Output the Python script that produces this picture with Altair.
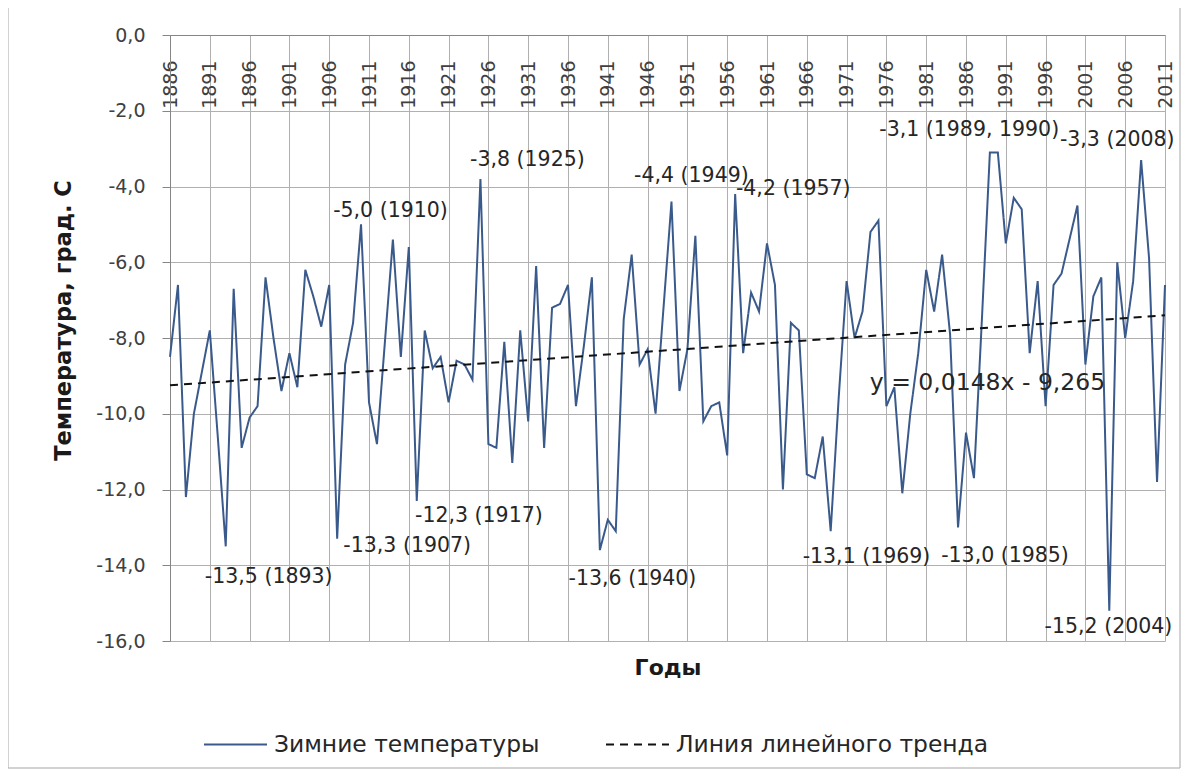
import altair as alt
import pandas as pd

# ---------------- data ----------------
years = list(range(1886, 2012))
winter_temps = [
    -8.5, -6.6, -12.2, -10.0, -8.9, -7.8, -10.6, -13.5, -6.7, -10.9,   # 1886-1895
    -10.1, -9.8, -6.4, -8.0, -9.4, -8.4, -9.3, -6.2, -6.9, -7.7,       # 1896-1905
    -6.6, -13.3, -8.7, -7.6, -5.0, -9.7, -10.8, -8.1, -5.4, -8.5,      # 1906-1915
    -5.6, -12.3, -7.8, -8.8, -8.5, -9.7, -8.6, -8.7, -9.1, -3.8,       # 1916-1925
    -10.8, -10.9, -8.1, -11.3, -7.8, -10.2, -6.1, -10.9, -7.2, -7.1,   # 1926-1935
    -6.6, -9.8, -8.2, -6.4, -13.6, -12.8, -13.1, -7.5, -5.8, -8.7,     # 1936-1945
    -8.3, -10.0, -7.2, -4.4, -9.4, -8.3, -5.3, -10.2, -9.8, -9.7,      # 1946-1955
    -11.1, -4.2, -8.4, -6.8, -7.3, -5.5, -6.6, -12.0, -7.6, -7.8,      # 1956-1965
    -11.6, -11.7, -10.6, -13.1, -9.6, -6.5, -8.0, -7.3, -5.2, -4.9,    # 1966-1975
    -9.8, -9.3, -12.1, -10.0, -8.4, -6.2, -7.3, -5.8, -7.9, -13.0,     # 1976-1985
    -10.5, -11.7, -7.5, -3.1, -3.1, -5.5, -4.3, -4.6, -8.4, -6.5,      # 1986-1995
    -9.8, -6.6, -6.3, -5.4, -4.5, -8.7, -6.9, -6.4, -15.2, -6.0,       # 1996-2005
    -8.0, -6.5, -3.3, -5.9, -11.8, -6.6,                               # 2006-2011
]
trend_years = [1886, 2011]
trend_values = [-9.25, -7.40]
series_names = ["Зимние температуры", "Линия линейного тренда"]
x_tick_years = list(range(1886, 2012, 5))
y_tick_values = list(range(-16, 1, 2))

label_texts = [
    "-5,0 (1910)", "-3,8 (1925)", "-4,4 (1949)", "-4,2 (1957)",
    "-3,1 (1989, 1990)", "-3,3 (2008)",
    "-13,5 (1893)", "-13,3 (1907)", "-12,3 (1917)", "-13,6 (1940)",
    "-13,1 (1969)", "-13,0 (1985)", "-15,2 (2004)",
]
label_years = [1913.7, 1930.9, 1951.5, 1964.3, 1986.4, 2005.0,
               1898.4, 1915.8, 1924.8, 1944.1, 1973.5, 1990.9, 2003.9]
label_values = [-4.65, -3.30, -3.73, -4.07, -2.51, -2.77,
                -14.30, -13.50, -12.71, -14.37, -13.79, -13.76, -15.64]

equation_text = ["y = 0,0148x - 9,265"]
equation_year = [1988.7]
equation_value = [-9.19]

# ---------------- tables ----------------
df_series = pd.DataFrame({"year": years, "value": winter_temps, "series": series_names[0]})
df_trend = pd.DataFrame({"year": trend_years, "value": trend_values, "series": series_names[1]})
df_lines = pd.concat([df_series, df_trend], ignore_index=True)
df_labels = pd.DataFrame({"lx": label_years, "ly": label_values, "text": label_texts})
df_eq = pd.DataFrame({"lx": equation_year, "ly": equation_value, "text": equation_text})

W, H = 995, 606
FONT = "DejaVu Sans"
GRID = "#b0b0b0"
AXIS = "#868686"

x_scale = alt.Scale(domain=[1886, 2011], nice=False, zero=False)
y_scale = alt.Scale(domain=[-16, 0], nice=False, zero=False)

legend_cfg = alt.Legend(
    orient="none", legendX=33, legendY=677, direction="horizontal", title=None,
    symbolType="stroke", symbolSize=3969, symbolStrokeWidth=2,
    labelFont=FONT, labelFontSize=23.4, labelColor="#262626",
    labelOffset=6, columnPadding=62, padding=0, labelLimit=500,
)

lines = alt.Chart(df_lines).mark_line(strokeWidth=2).encode(
    x=alt.X("year:Q", scale=x_scale, axis=alt.Axis(
        orient="bottom", offset=-H, values=x_tick_years, tickCount=len(x_tick_years),
        format="d", labelAngle=-90, ticks=False, labelPadding=25,
        labelFont=FONT, labelFontSize=19, labelColor="#404040",
        labelFlush=False, labelOverlap=False,
        grid=True, gridColor=GRID, gridWidth=1,
        domainColor=AXIS, domainWidth=1,
        title="Годы", titleFont=FONT, titleFontSize=22, titleFontWeight="bold",
        titleColor="#1a1a1a", titleX=W / 2, titleY=632,
        titleAlign="center", titleBaseline="middle",
    )),
    y=alt.Y("value:Q", scale=y_scale, axis=alt.Axis(
        values=y_tick_values, tickCount=len(y_tick_values),
        labelExpr="replace(replace(format(datum.value, '.1f'), '.', ','), '\u2212', '-')",
        tickSize=8, tickColor=AXIS, labelPadding=17,
        labelFont=FONT, labelFontSize=19, labelColor="#404040",
        grid=True, gridColor=GRID, gridWidth=1,
        domainColor=AXIS, domainWidth=1,
        title="Температура, град. С", titleFont=FONT, titleFontSize=22.5,
        titleFontWeight="bold", titleColor="#1a1a1a",
        titleX=-107, titleY=285, titleAngle=270,
        titleAlign="center", titleBaseline="middle",
    )),
    color=alt.Color("series:N", scale=alt.Scale(domain=series_names, range=["#3A5A8C", "#111111"]),
                    legend=legend_cfg),
    strokeDash=alt.StrokeDash("series:N", scale=alt.Scale(domain=series_names, range=[[1, 0], [8, 6]]),
                              legend=legend_cfg),
)

labels = alt.Chart(df_labels).mark_text(
    font=FONT, fontSize=20.5, color="#262626", align="center", baseline="middle"
).encode(x=alt.X("lx:Q", scale=x_scale), y=alt.Y("ly:Q", scale=y_scale), text="text:N")

equation = alt.Chart(df_eq).mark_text(
    font=FONT, fontSize=23.5, color="#262626", align="center", baseline="middle"
).encode(x=alt.X("lx:Q", scale=x_scale), y=alt.Y("ly:Q", scale=y_scale), text="text:N")

frame = alt.Chart(df_eq).mark_rect(fillOpacity=0, stroke="#a6a6a6", strokeWidth=1).encode(
    x=alt.value(-162), x2=alt.value(1010), y=alt.value(-29), y2=alt.value(733)
)

chart = alt.layer(frame, lines, labels, equation).properties(
    width=W, height=H,
    autosize=alt.AutoSizeParams(type="none"),
    padding={"left": 162, "top": 27, "right": 16, "bottom": 129},
    background="white",
).configure_view(strokeWidth=0)

chart.save("out.html", embed_options={"renderer": "svg", "actions": False})
